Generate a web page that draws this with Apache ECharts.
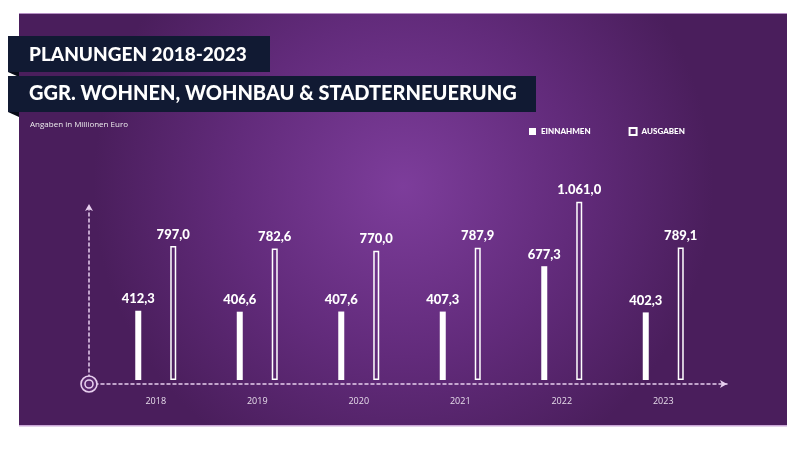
<!DOCTYPE html>
<html>
<head>
<meta charset="utf-8">
<script src="https://cdn.jsdelivr.net/npm/echarts@6/dist/echarts.min.js"></script>
<style>html,body{margin:0;padding:0;background:#fff}#c{width:800px;height:452px}</style>
</head>
<body>
<div id="c"></div>
<script>
const categories = ['2018', '2019', '2020', '2021', '2022', '2023'];
const einnahmen = [412.3, 406.6, 407.6, 407.3, 677.3, 402.3];
const ausgaben = [797.0, 782.6, 770.0, 787.9, 1061.0, 789.1];
const title1 = 'PLANUNGEN 2018-2023';
const title2 = 'GGR. WOHNEN, WOHNBAU & STADTERNEUERUNG';
const subtitle = 'Angaben in Millionen Euro';
const seriesNames = ['EINNAHMEN', 'AUSGABEN'];

function fmt(v) {
  const parts = v.toFixed(1).split('.');
  const intPart = parts[0].replace(/\B(?=(\d{3})+(?!\d))/g, '.');
  return intPart + ',' + parts[1];
}

const chart = echarts.init(document.getElementById('c'), null, {renderer: 'canvas'});
const axisColor = '#e7cfee';
const labelStyle = {
  show: true, position: 'top', distance: 5, color: '#fff',
  fontFamily: 'Lato', fontWeight: 900, fontSize: 13,
  formatter: p => fmt(p.value)
};

chart.setOption({
  backgroundColor: '#ffffff',
  animation: false,
  graphic: [
    {type: 'rect', z: -5, shape: {x: 19, y: 13, width: 768, height: 413},
     style: {fill: {type: 'radial', x: 0.5, y: 0.42, r: 0.75,
       colorStops: [{offset: 0, color: '#7d3d9b'}, {offset: 0.55, color: '#622b7b'}, {offset: 1, color: '#4a1e5c'}]}}},
    {type: 'rect', z: -4, shape: {x: 19, y: 425, width: 768, height: 1.5}, style: {fill: '#c9a6d6'}},
    {type: 'rect', z: -4, shape: {x: 19, y: 13, width: 768, height: 1}, style: {fill: '#b58fc4'}},
    {type: 'polygon', z: 10, shape: {points: [[8, 72], [19, 72], [19, 77]]}, style: {fill: '#070b18'}},
    {type: 'polygon', z: 10, shape: {points: [[8, 112], [19, 112], [19, 117]]}, style: {fill: '#070b18'}},
    {type: 'rect', z: 10, shape: {x: 8, y: 36, width: 262, height: 36}, style: {fill: '#111a33'}},
    {type: 'rect', z: 10, shape: {x: 8, y: 76, width: 528, height: 36}, style: {fill: '#111a33'}},
    {type: 'text', z: 11, x: 29, y: 55, style: {text: title1, fill: '#fff', font: '900 19px Lato', textVerticalAlign: 'middle'}},
    {type: 'text', z: 11, x: 29, y: 94, style: {text: title2, fill: '#fff', font: '900 20px Lato', textVerticalAlign: 'middle'}},
    {type: 'text', z: 11, x: 30, y: 125, style: {text: subtitle, fill: '#eee', font: '8px "Open Sans"', textVerticalAlign: 'middle'}},
    {type: 'circle', z: 11, shape: {cx: 89, cy: 384, r: 8}, style: {fill: '#58276d', stroke: axisColor, lineWidth: 1.6}},
    {type: 'circle', z: 11, shape: {cx: 89, cy: 384, r: 4}, style: {fill: 'none', stroke: axisColor, lineWidth: 1.6}}
  ],
  legend: {
    left: 524, top: 122, itemWidth: 7, itemHeight: 7, itemGap: 38, icon: 'rect',
    textStyle: {color: '#fff', fontFamily: 'Lato', fontWeight: 900, fontSize: 8},
    data: seriesNames
  },
  grid: [
    {left: 89, right: 73, top: 204, bottom: 68},
    {left: 105, right: 86, top: 178.4, bottom: 72}
  ],
  xAxis: [
    {gridIndex: 0, type: 'value', min: 0, max: 1,
     axisLine: {show: true, symbol: ['none', 'arrow'], symbolSize: [6, 7], symbolOffset: [10, 0],
       lineStyle: {color: axisColor, width: 1.5, type: [3, 3]}},
     axisTick: {show: false}, axisLabel: {show: false}, splitLine: {show: false}},
    {gridIndex: 1, type: 'category', data: categories,
     axisLine: {show: false}, axisTick: {show: false},
     axisLabel: {color: '#e6dcea', fontFamily: 'Open Sans', fontSize: 9, margin: 17}}
  ],
  yAxis: [
    {gridIndex: 0, type: 'value', min: 0, max: 1,
     axisLine: {show: true, symbol: ['none', 'arrow'], symbolSize: [6, 7], symbolOffset: [10, 0],
       lineStyle: {color: axisColor, width: 1.5, type: [3, 3]}},
     axisTick: {show: false}, axisLabel: {show: false}, splitLine: {show: false}},
    {gridIndex: 1, type: 'value', min: 0, max: 1200, show: false}
  ],
  series: [
    {name: seriesNames[0], type: 'bar', xAxisIndex: 1, yAxisIndex: 1, data: einnahmen,
     barWidth: 6, barGap: '483%', itemStyle: {color: '#ffffff'}, label: labelStyle},
    {name: seriesNames[1], type: 'bar', xAxisIndex: 1, yAxisIndex: 1, data: ausgaben,
     barWidth: 6, itemStyle: {color: 'rgba(0,0,0,0)', borderColor: '#ffffff', borderWidth: 1.5}, label: labelStyle}
  ]
});
</script>
</body>
</html>
